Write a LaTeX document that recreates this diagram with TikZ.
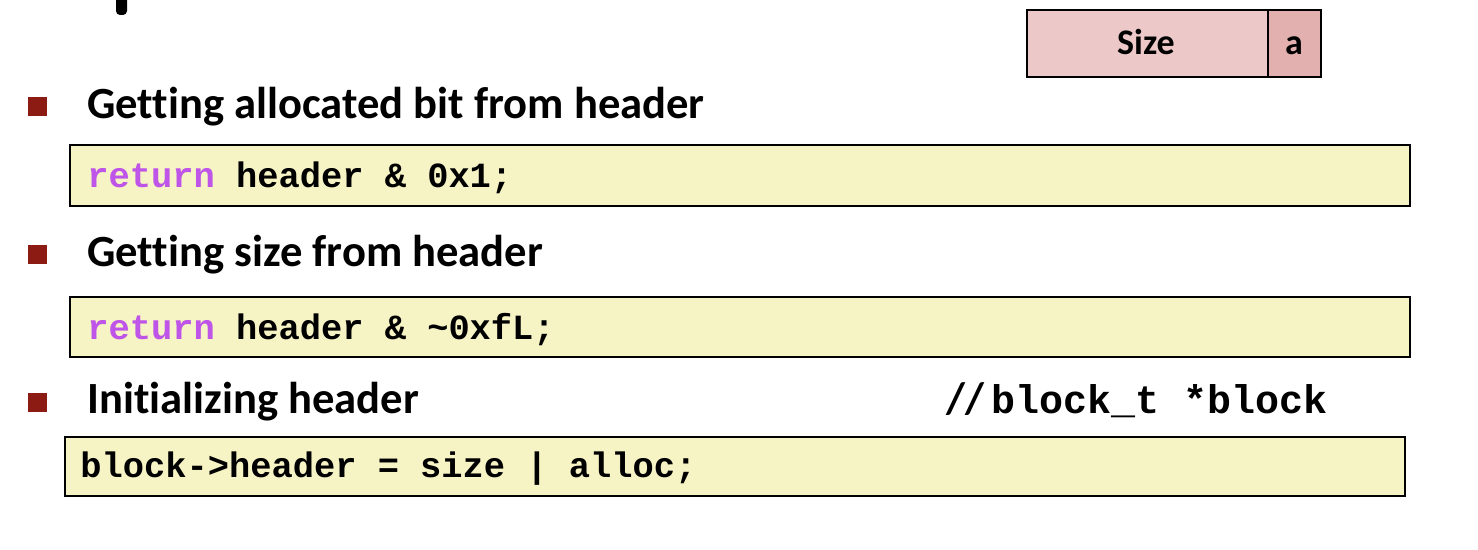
\documentclass[tikz,border=0pt]{standalone}
\usepackage{fontspec}
\setmainfont{Carlito}[Ligatures={NoCommon,NoContextual}]
\newfontfamily\codefont{Liberation Mono}
\definecolor{bulletred}{RGB}{140,27,20}
\definecolor{codebg}{RGB}{246,243,196}
\definecolor{sizebg}{RGB}{236,200,200}
\definecolor{abg}{RGB}{226,176,175}
\definecolor{kwpurple}{RGB}{190,84,232}
\tikzset{
  bulletsq/.style={fill=bulletred, minimum width=9.5pt, minimum height=9.5pt, inner sep=0pt},
  heading/.style={anchor=base west, inner sep=0pt, font=\fontsize{22.3}{26}\selectfont\bfseries},
  codebox/.style={draw=black, line width=1pt, fill=codebg},
  codetext/.style={anchor=west, inner sep=0pt, font=\fontsize{17.7}{20}\selectfont\codefont\bfseries},
  fieldbox/.style={draw=black, line width=1pt, inner sep=0pt},
  fieldtext/.style={anchor=base, inner sep=0pt, font=\fontsize{18}{20}\selectfont\bfseries}
}
\begin{document}
\begin{tikzpicture}[x=0.5pt,y=-0.5pt]
\path[use as bounding box] (0,0) rectangle (1478,550);
% cut-off glyph of the title
\fill[black, rounded corners=2pt] (116,-10) rectangle (127,15);
% header field picture
\node[fieldbox, fill=sizebg, minimum width=120.5pt, minimum height=33.5pt] (size) at (1147.5,43.5) {};
\node[fieldbox, fill=abg, minimum width=26.5pt, minimum height=33.5pt] (abit) at (1294.25,43.5) {};
\node[fieldtext] (sizet) at (1146,55) {Size};
\node[fieldtext] (abitt) at (1294,55) {a};
% bullet 1
\node[bulletsq] (b1) at (37,107) {};
\node[heading] (h1) at (87,119) {Getting allocated bit from header};
\draw[codebox] (70,145) rectangle (1410,206);
\node[codetext] (c1) at (87,178) {\textcolor{kwpurple}{return} header \& 0x1;};
% bullet 2
\node[bulletsq] (b2) at (37,255) {};
\node[heading] (h2) at (87,267) {Getting size from header};
\draw[codebox] (70,297) rectangle (1410,357);
\node[codetext] (c2) at (87,330) {\textcolor{kwpurple}{return} header \& \char`\~0xfL;};
% bullet 3
\node[bulletsq] (b3) at (37,403) {};
\node[heading] (h3) at (87,414) {Initializing header};
\node[anchor=base west, inner sep=0pt] (cm) at (946,414) {\fontsize{22}{26}\selectfont\bfseries //};
\node[anchor=base west, inner sep=0pt] (cmc) at (991,414) {\fontsize{20}{22}\selectfont\codefont\bfseries block\_t *block};
\draw[codebox] (65,437) rectangle (1405,496);
\node[codetext] (c3) at (80,469) {block->header = size | alloc;};
\end{tikzpicture}
\end{document}
